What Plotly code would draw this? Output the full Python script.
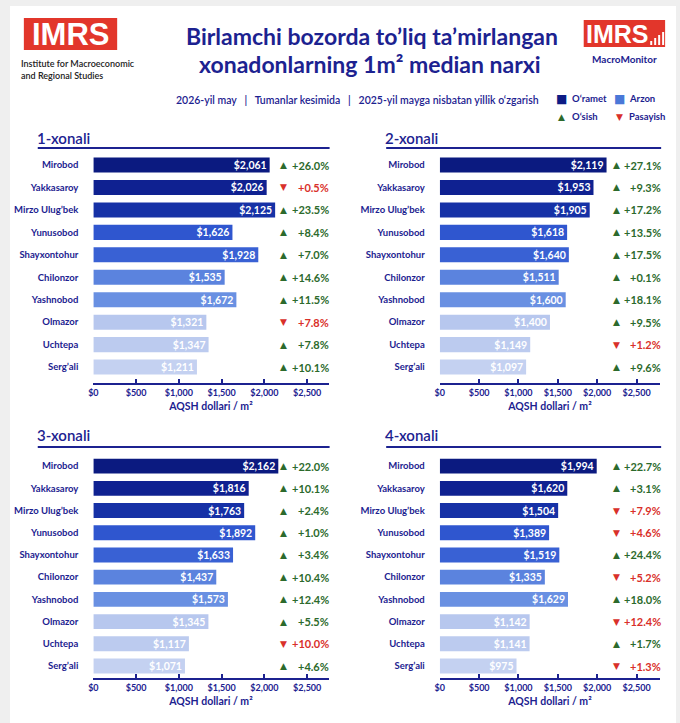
import plotly.graph_objects as go

# ---------------- data ----------------
districts = ["Mirobod", "Yakkasaroy", "Mirzo Ulug’bek", "Yunusobod", "Shayxontohur",
             "Chilonzor", "Yashnobod", "Olmazor", "Uchtepa", "Serg’ali"]

panel_titles = ["1-xonali", "2-xonali", "3-xonali", "4-xonali"]

prices_1 = [2061, 2026, 2125, 1626, 1928, 1535, 1672, 1321, 1347, 1211]
change_1 = [26.0, 0.5, 23.5, 8.4, 7.0, 14.6, 11.5, 7.8, 7.8, 10.1]
dir_1 = ["up", "down", "up", "up", "up", "up", "up", "down", "up", "up"]

prices_2 = [2119, 1953, 1905, 1618, 1640, 1511, 1600, 1400, 1149, 1097]
change_2 = [27.1, 9.3, 17.2, 13.5, 17.5, 0.1, 18.1, 9.5, 1.2, 9.6]
dir_2 = ["up", "up", "up", "up", "up", "up", "up", "up", "down", "up"]

prices_3 = [2162, 1816, 1763, 1892, 1633, 1437, 1573, 1345, 1117, 1071]
change_3 = [22.0, 10.1, 2.4, 1.0, 3.4, 10.4, 12.4, 5.5, 10.0, 4.6]
dir_3 = ["up", "up", "up", "up", "up", "up", "up", "up", "down", "up"]

prices_4 = [1994, 1620, 1504, 1389, 1519, 1335, 1629, 1142, 1141, 975]
change_4 = [22.7, 3.1, 7.9, 4.6, 24.4, 5.2, 18.0, 12.4, 1.7, 1.3]
dir_4 = ["up", "up", "down", "down", "up", "down", "up", "down", "up", "down"]

tick_vals = [0, 500, 1000, 1500, 2000, 2500]
tick_text = ["$0", "$500", "$1,000", "$1,500", "$2,000", "$2,500"]

# ---------------- style ----------------
W, H = 680, 723
NAVY = "#1c2290"
GREEN = "#2c6a2c"
RED = "#d9302a"
LOGO_RED = "#e2362b"
FONT = "Lato"
row_colors = ["#0b1a80", "#0f2191", "#1631a6", "#2f56cf", "#3961d4",
              "#5b83de", "#6990e2", "#b7c7ee", "#bccbef", "#c4d1f1"]


def px(x):
    return x / W


def py(y):
    return 1 - y / H


panels = [
    dict(prices=prices_1, change=change_1, dirs=dir_1, x0=89, x1=326, top=154, bot=383,
         yr=[9.71, -0.49], xr=[0, 2750], tri=281, pct=328, tx=30, ty=138, ux0=33, ux1=327, uy=148),
    dict(prices=prices_2, change=change_2, dirs=dir_2, x0=438, x1=660, top=154, bot=383,
         yr=[9.71, -0.49], xr=[0, 2800], tri=616, pct=663, tx=381, ty=138, ux0=384, ux1=661, uy=148),
    dict(prices=prices_3, change=change_3, dirs=dir_3, x0=89, x1=326, top=455, bot=678,
         yr=[9.54, -0.5], xr=[0, 2750], tri=281, pct=328, tx=30, ty=435, ux0=33, ux1=327, uy=447),
    dict(prices=prices_4, change=change_4, dirs=dir_4, x0=438, x1=660, top=455, bot=678,
         yr=[9.54, -0.5], xr=[0, 2800], tri=616, pct=663, tx=381, ty=435, ux0=384, ux1=661, uy=447),
]

fig = go.Figure()
annotations = []
shapes = []

# card background
shapes.append(dict(type="rect", xref="paper", yref="paper", x0=px(5), x1=px(676), y0=0, y1=py(6),
                   fillcolor="white", line=dict(width=0), layer="below"))

layout_axes = {}
for i, p in enumerate(panels):
    n = i + 1
    xa = "x" if n == 1 else f"x{n}"
    ya = "y" if n == 1 else f"y{n}"
    fig.add_trace(go.Bar(
        x=p["prices"], y=districts, orientation="h",
        xaxis=xa, yaxis=ya,
        marker=dict(color=row_colors, line=dict(width=0)),
        text=[f"${v:,}" for v in p["prices"]],
        textposition="inside", insidetextanchor="end",
        textfont=dict(color="white", size=10.5, family=FONT, weight=700),
        constraintext="none", cliponaxis=False,
        hoverinfo="skip", showlegend=False,
    ))
    xkey = "xaxis" if n == 1 else f"xaxis{n}"
    ykey = "yaxis" if n == 1 else f"yaxis{n}"
    layout_axes[xkey] = dict(
        domain=[px(p["x0"]), px(p["x1"])], anchor=ya, range=p["xr"],
        tickvals=tick_vals, ticktext=tick_text,
        showline=True, linecolor=NAVY, linewidth=2,
        ticks="inside", ticklen=4, tickwidth=1.5, tickcolor=NAVY,
        showgrid=False, zeroline=False,
        tickfont=dict(size=9, color=NAVY, family=FONT, weight=700),
        title=dict(text="AQSH dollari / m²", standoff=6,
                   font=dict(size=10.5, color=NAVY, family=FONT, weight=700)),
        fixedrange=True,
    )
    layout_axes[ykey] = dict(
        domain=[py(p["bot"]), py(p["top"])], anchor=xa, range=p["yr"],
        type="category", categoryorder="array", categoryarray=districts,
        showline=False, showgrid=False, zeroline=False, ticks="",
        ticklabelstandoff=14,
        tickfont=dict(size=9.5, color=NAVY, family=FONT, weight=700),
        fixedrange=True,
    )
    # panel title and underline
    annotations.append(dict(text=panel_titles[i], xref="paper", yref="paper",
                            x=px(p["tx"]), y=py(p["ty"]), xanchor="left", yanchor="middle",
                            showarrow=False, font=dict(size=15, color=NAVY, family=FONT, weight=600)))
    shapes.append(dict(type="line", xref="paper", yref="paper",
                       x0=px(p["ux0"]), x1=px(p["ux1"]), y0=py(p["uy"]), y1=py(p["uy"]),
                       line=dict(color=NAVY, width=2)))
    # change markers & labels
    for d, c, dr in zip(districts, p["change"], p["dirs"]):
        col = GREEN if dr == "up" else RED
        sym = "▲" if dr == "up" else "▼"
        annotations.append(dict(text=sym, xref="paper", yref=ya, x=px(p["tri"]), y=d,
                                xanchor="center", yanchor="middle", showarrow=False,
                                font=dict(size=9, color=col, family="DejaVu Sans")))
        annotations.append(dict(text=f"+{c:.1f}%", xref="paper", yref=ya, x=px(p["pct"]), y=d,
                                xanchor="right", yanchor="middle", showarrow=False,
                                font=dict(size=11, color=col, family=FONT, weight=700)))

# ---------------- header ----------------
# left logo
shapes.append(dict(type="rect", xref="paper", yref="paper", x0=px(19), x1=px(113), y0=py(50), y1=py(18),
                   fillcolor=LOGO_RED, line=dict(width=0)))
annotations.append(dict(text="IMRS", xref="paper", yref="paper", x=px(66), y=py(34.5),
                        xanchor="center", yanchor="middle", showarrow=False,
                        font=dict(size=31, color="white", family="Liberation Sans", weight=700)))
annotations.append(dict(text="Institute for Macroeconomic<br>and Regional Studies", xref="paper", yref="paper",
                        x=px(14), y=py(70), xanchor="left", yanchor="middle", align="left", showarrow=False,
                        font=dict(size=9, color="#222222", family=FONT, weight=600)))
# title (two lines)
annotations.append(dict(text="Birlamchi bozorda to’liq ta’mirlangan",
                        xref="paper", yref="paper", x=px(370), y=py(36), xanchor="center", yanchor="middle",
                        showarrow=False, font=dict(size=23, color=NAVY, family=FONT, weight=700)))
annotations.append(dict(text="xonadonlarning 1m² median narxi",
                        xref="paper", yref="paper", x=px(368), y=py(64), xanchor="center", yanchor="middle",
                        showarrow=False, font=dict(size=23, color=NAVY, family=FONT, weight=700)))
# subtitle
annotations.append(dict(text="2026-yil may   |   Tumanlar kesimida   |   2025-yil mayga nisbatan yillik o‘zgarish",
                        xref="paper", yref="paper", x=px(355), y=py(100), xanchor="center", yanchor="middle",
                        showarrow=False, font=dict(size=10.5, color=NAVY, family=FONT, weight=600)))
# right logo
shapes.append(dict(type="rect", xref="paper", yref="paper", x0=px(583), x1=px(665), y0=py(47), y1=py(20),
                   fillcolor=LOGO_RED, line=dict(width=0)))
annotations.append(dict(text="IMRS", xref="paper", yref="paper", x=px(617), y=py(33.5),
                        xanchor="center", yanchor="middle", showarrow=False,
                        font=dict(size=25, color="white", family="Liberation Sans", weight=700)))
for k, (bx, bh) in enumerate([(650, 4), (654, 7), (658, 10), (662, 13)]):
    shapes.append(dict(type="rect", xref="paper", yref="paper", x0=px(bx), x1=px(bx + 2),
                       y0=py(45), y1=py(45 - bh), fillcolor="white", line=dict(width=0)))
annotations.append(dict(text="MacroMonitor", xref="paper", yref="paper", x=px(624), y=py(59),
                        xanchor="center", yanchor="middle", showarrow=False,
                        font=dict(size=10, color=NAVY, family=FONT, weight=700)))
# legend
legend_items = [("■", "#0d1c85", "O‘ramet", 561, 99), ("■", "#4a78d8", "Arzon", 619, 99),
                ("▲", GREEN, "O‘sish", 561, 117), ("▼", RED, "Pasayish", 619, 117)]
for sym, col, lab, lx, ly in legend_items:
    annotations.append(dict(text=sym, xref="paper", yref="paper", x=px(lx), y=py(ly),
                            xanchor="center", yanchor="middle", showarrow=False,
                            font=dict(size=12 if sym == "■" else 9, color=col, family="DejaVu Sans")))
    annotations.append(dict(text=lab, xref="paper", yref="paper", x=px(lx + 8), y=py(ly),
                            xanchor="left", yanchor="middle", showarrow=False,
                            font=dict(size=9.5, color=NAVY, family=FONT, weight=700)))

fig.update_layout(
    width=W, height=H, margin=dict(l=0, r=0, t=0, b=0),
    paper_bgcolor="#efefef", plot_bgcolor="rgba(0,0,0,0)",
    bargap=0.33, showlegend=False,
    annotations=annotations, shapes=shapes,
    font=dict(family=FONT, color=NAVY),
    **layout_axes,
)

fig.write_html("out.html")
